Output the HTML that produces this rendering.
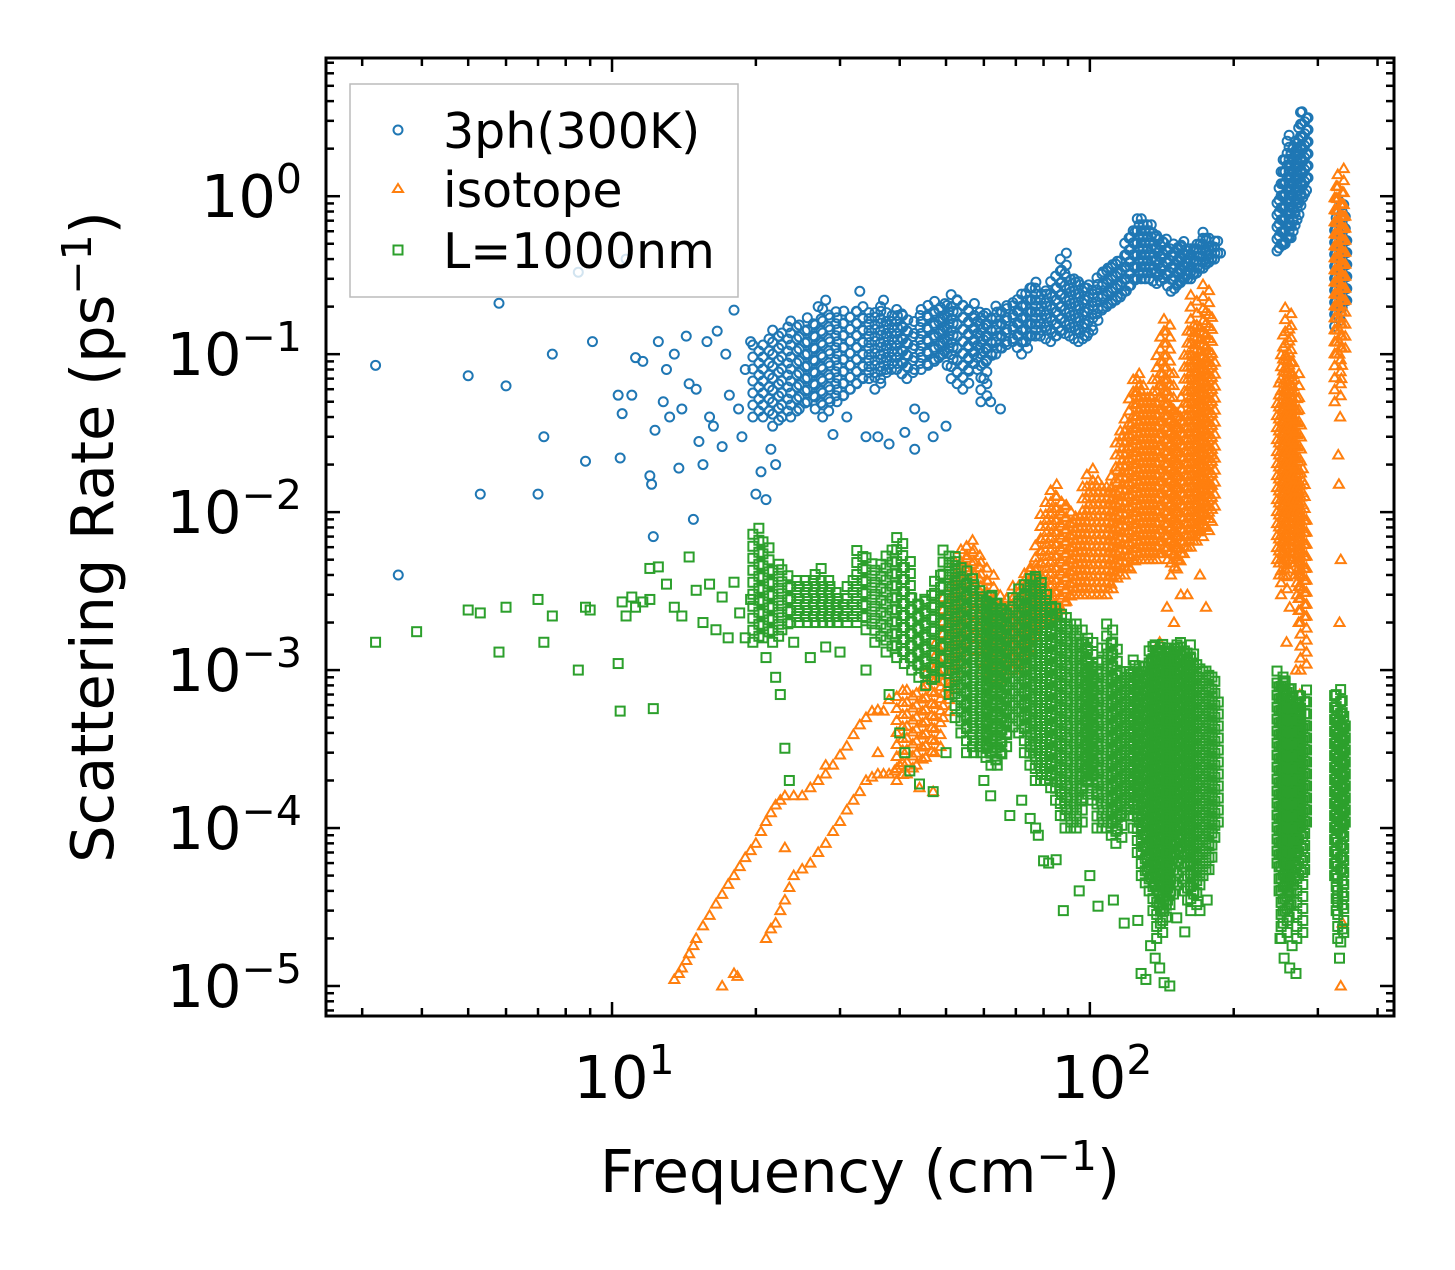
<!DOCTYPE html>
<html><head><meta charset="utf-8"><style>
body{margin:0;background:#fff}
svg text{font-family:"DejaVu Sans","Liberation Sans",sans-serif;fill:#000}
</style></head><body>
<svg id="chart" width="1455" height="1265" xmlns="http://www.w3.org/2000/svg">
<g id="marks"></g>
<g id="axes"></g>
<g>
<rect x="350" y="84" width="388" height="213" fill="#fff" fill-opacity="0.8" stroke="#bbb" stroke-width="1.5"/>
<circle cx="398" cy="130" r="4.5" fill="none" stroke="#1f77b4" stroke-width="2"/>
<text x="443" y="148" font-size="49">3ph(300K)</text>
<path d="M398,184 L403,192 L393,192 Z" fill="none" stroke="#ff7f0e" stroke-width="2"/>
<text x="443" y="207" font-size="49">isotope</text>
<rect x="393.5" y="245.5" width="9" height="9" fill="none" stroke="#2ca02c" stroke-width="2"/>
<text x="443" y="268" font-size="49">L=1000nm</text>
</g>
<text x="860" y="1192" font-size="59" text-anchor="middle">Frequency (cm<tspan dy="-22" font-size="41">−1</tspan><tspan dy="22">)</tspan></text>
<text transform="translate(113,537) rotate(-90)" font-size="59" text-anchor="middle">Scattering Rate (ps<tspan dy="-22" font-size="41">−1</tspan><tspan dy="22">)</tspan></text>
</svg>
<script>
// axis ranges
const xDomain=[2.52,433];
const yDomain=[-5.19,0.875];
const xTicks=[1,2];
const yTicks=[0,-1,-2,-3,-4,-5];
// blue singles: "freq:value"
const blueSingles="3.2:0.085 3.57:0.004 5:0.073 5.3:0.013 5.8:0.21 6:0.063 7:0.013 7.2:0.03 7.5:0.1 8.5:0.33 8.8:0.021 9.1:0.12 10.3:0.055 10.4:0.022 10.5:0.042 10.7:0.4 11:0.055 11.2:0.095 11.6:0.09 12:0.017 12.1:0.015 12.2:0.007 12.3:0.033 12.5:0.12 12.8:0.05 13:0.08 13.2:0.04 13.5:0.1 13.8:0.019 14:0.045 14.3:0.13 14.5:0.065 14.8:0.009 15:0.06 15.2:0.028 15.5:0.02 15.8:0.12 16:0.04 16.3:0.035 16.6:0.14 17:0.026 17.3:0.1 17.6:0.055 18:0.19 18.4:0.045 18.7:0.03 19:0.08 19.5:0.12 20:0.013 20.5:0.018 21:0.012 21.5:0.025 22:0.02 43:0.045 43:0.025 45:0.04 47:0.03 50:0.035 60:0.07 62:0.05 65:0.045 29:0.031 31:0.04 34:0.03 36:0.03 38:0.027 41:0.032 28:0.22 27:0.2 33:0.25 37:0.22".split(" ");
// blue ranges: "freq:low:high"
const blueRanges="20:0.04:0.12 21:0.04:0.13 22:0.035:0.15 23:0.04:0.15 24:0.04:0.17 25:0.045:0.16 26:0.05:0.18 27:0.045:0.17 28:0.04:0.2 29:0.05:0.19 30:0.05:0.18 31:0.055:0.19 32:0.06:0.2 33:0.065:0.2 34:0.07:0.2 35:0.07:0.19 36:0.06:0.2 37:0.07:0.2 38:0.08:0.18 39:0.08:0.19 40:0.08:0.2 41:0.075:0.18 42:0.07:0.15 43.5:0.08:0.18 45:0.08:0.2 46.5:0.085:0.21 48:0.09:0.22 49:0.095:0.21 50:0.1:0.2 51:0.085:0.22 52:0.07:0.25 53.5:0.065:0.23 55:0.06:0.22 56.5:0.08:0.21 58:0.1:0.2 59:0.08:0.19 60:0.05:0.18 61.5:0.09:0.19 63:0.1:0.2 64.5:0.1:0.21 66:0.11:0.22 68:0.115:0.22 70:0.12:0.22 71.5:0.11:0.23 73:0.1:0.25 74.5:0.12:0.27 76:0.13:0.3 78:0.13:0.27 80:0.13:0.25 82:0.125:0.27 84:0.12:0.3 86:0.13:0.35 88:0.14:0.45 90:0.135:0.35 92:0.13:0.3 94:0.125:0.3 96:0.12:0.3 98:0.125:0.29 100:0.13:0.28 102.5:0.15:0.3 105:0.18:0.35 107.5:0.19:0.37 110:0.2:0.4 112.5:0.21:0.39 115:0.22:0.38 117.5:0.23:0.45 120:0.25:0.55 122.5:0.27:0.62 125:0.3:0.7 127.5:0.3:0.72 130:0.3:0.75 132.5:0.3:0.7 135:0.3:0.65 137.5:0.29:0.62 140:0.28:0.6 142.5:0.29:0.57 145:0.3:0.55 147.5:0.27:0.52 150:0.25:0.5 152.5:0.26:0.52 155:0.28:0.55 157.5:0.29:0.52 160:0.3:0.5 162.5:0.3:0.5 165:0.3:0.5 167.5:0.32:0.52 170:0.35:0.55 172.5:0.35:0.57 175:0.35:0.6 177.5:0.37:0.57 180:0.4:0.55 182.5:0.4:0.52 185:0.4:0.5 250:0.45:1 252.5:0.47:1.2 255:0.5:1.5 257.5:0.5:1.7 260:0.5:2 262.5:0.55:2.3 265:0.6:2.5 267.5:0.65:2.2 270:0.7:2 272.5:0.8:2.2 275:0.9:2.5 277.5:0.95:3 280:1:3.5 282:1.2:3.7 330:0.15:0.7 332.5:0.18:0.8 335:0.2:1 337.5:0.2:0.8 340:0.2:0.6".split(" ");
// orange singles
const orangeSingles="13.5:1.1e-5 13.8:1.2e-5 14:1.3e-5 14.3:1.45e-5 14.5:1.6e-5 14.8:1.8e-5 15:2e-5 15.5:2.4e-5 16:2.8e-5 16.5:3.3e-5 17:3.8e-5 17.5:4.4e-5 18:5e-5 18.5:5.7e-5 19:6.5e-5 19.5:7.2e-5 20:8e-5 20.5:9.5e-5 21:1.1e-4 21.5:1.25e-4 22:1.4e-4 22.5:1.5e-4 23:1.6e-4 24:1.6e-4 25:1.6e-4 26:1.8e-4 27:2e-4 28:2.2e-4 29:2.5e-4 30:2.9e-4 31:3.3e-4 32:3.9e-4 33:4.5e-4 34:5e-4 35:5.5e-4 36:5.6e-4 37:5.5e-4 38:6.5e-4 17:1e-5 18:1.2e-5 18.3:1.15e-5 21:2e-5 21.5:2.3e-5 22:2.5e-5 22.5:3e-5 23:3.5e-5 23.5:4.2e-5 24:5e-5 25:5.5e-5 26:6e-5 27:7e-5 28:8e-5 29:9.5e-5 30:1.1e-4 31:1.3e-4 32:1.5e-4 33:1.7e-4 34:2e-4 35:2.1e-4 36:2.2e-4 37:2.2e-4 38:2.2e-4 39:2.3e-4 40:2.5e-4 23:7.5e-5 28:2.5e-4 140:1.5e-3 145:2.5e-3 150:2e-3 155:3e-3 160:3e-3 170:4e-3 175:2.5e-3 178:1.5e-2 180:2.3e-2 258:1.5e-3 262:2.5e-3 270:1e-3 275:7e-4 333:2e-3 335:5e-3 332:1.5e-2 331:2.3e-2 334:4e-2 336:7e-2 337:8.5e-2 338:2.5e-5 335:1e-5 36:3e-4 44:1.8e-4 47:1.7e-4".split(" ");
const orangeRanges="40:2e-4:8e-4 42:2.2e-4:8e-4 44:2.5e-4:8e-4 46:2.8e-4:1.1e-3 48:3e-4:1.5e-3 50:5e-4:3e-3 51.5:7e-4:4e-3 53:1e-3:5e-3 54.5:1.2e-3:6e-3 56:1.5e-3:7e-3 58:1.2e-3:6e-3 60:1e-3:5e-3 62:9e-4:4e-3 64:8e-4:3e-3 66:9e-4:3e-3 68:1e-3:3e-3 70:1e-3:3.5e-3 72:1e-3:4e-3 74:1.2e-3:4.5e-3 76:1.5e-3:5e-3 78:1.8e-3:7e-3 80:2e-3:1e-2 82:2e-3:1.2e-2 84:2e-3:1.5e-2 86:2.2e-3:1.3e-2 88:2.5e-3:1.2e-2 90:2.7e-3:1.1e-2 92:3e-3:1e-2 94:3e-3:1e-2 96:3e-3:1e-2 98:3e-3:1.5e-2 100:3e-3:2e-2 102.5:3e-3:1.7e-2 105:3e-3:1.5e-2 107.5:3e-3:1.5e-2 110:3e-3:1.5e-2 112.5:3.5e-3:2e-2 115:4e-3:3e-2 117.5:4e-3:3.5e-2 120:4e-3:4e-2 122.5:4.5e-3:6e-2 125:5e-3:8e-2 127.5:5e-3:7e-2 130:5e-3:6e-2 132.5:5e-3:5.5e-2 135:5e-3:5e-2 137.5:5e-3:7e-2 140:5e-3:0.1 142.5:5.5e-3:0.14 145:6e-3:0.18 147.5:5e-3:0.08 150:4e-3:0.05 152.5:4.5e-3:0.045 155:5e-3:0.04 157.5:5.5e-3:0.06 160:6e-3:0.1 162.5:6e-3:0.16 165:6e-3:0.25 167.5:7e-3:0.15 170:8e-3:0.1 172.5:7.5e-3:0.15 175:7e-3:0.3 177.5:8e-3:0.2 180:1e-2:0.1 250:5e-3:0.05 252.5:4e-3:0.07 255:3e-3:0.1 257.5:4e-3:0.15 260:5e-3:0.2 262.5:7e-3:0.1 265:1e-2:0.05 267.5:7e-3:0.06 270:5e-3:0.08 272.5:4e-3:0.04 275:3e-3:0.02 277.5:2e-3:0.015 280:1e-3:0.01 330:0.05:1 332.5:0.1:1.2 335:0.2:1.5 337.5:0.1:0.8".split(" ");
// green singles
const greenSingles="3.2:1.5e-3 3.9:1.75e-3 5:2.4e-3 5.3:2.3e-3 5.8:1.3e-3 6:2.5e-3 7:2.8e-3 7.2:1.5e-3 7.5:2.2e-3 8.5:1e-3 8.8:2.5e-3 9:2.4e-3 10.3:1.1e-3 10.4:5.5e-4 10.5:2.7e-3 10.7:2.2e-3 11:2.9e-3 11.2:2.5e-3 11.6:2.7e-3 12:2.8e-3 12.2:5.7e-4 12:4.4e-3 12.5:4.5e-3 13:3.5e-3 13.5:2.5e-3 14:2.2e-3 14.5:5.2e-3 15:3.2e-3 15.5:2e-3 16:3.5e-3 16.5:1.8e-3 17:2.9e-3 17.5:1.6e-3 18:3.6e-3 18.5:2.3e-3 19:1.6e-3 19.5:2.8e-3 21:1.2e-3 22:9e-4 22.5:7e-4 23:3.2e-4 23.5:2e-4 24:1.5e-3 26:1.2e-3 28:1.4e-3 30:1.3e-3 34:1e-3 38:7e-4 40:4e-4 41:3e-4 42:2.3e-4 44:1.9e-4 47:1.7e-4 50:3e-4 60:2e-4 62:1.6e-4 64:2.5e-4 68:1.2e-4 72:1.5e-4 75:1.15e-4 77:1e-4 78:9e-5 80:6.2e-5 82:6e-5 85:6.3e-5 88:3e-5 95:4e-5 100:5e-5 104:3.2e-5 112:3.5e-5 118:2.5e-5 126:2.6e-5 128:1.2e-5 131:1.1e-5 134:1.8e-5 137:1.5e-5 140:1.3e-5 143:1.05e-5 147:1e-5 152:2.7e-5 158:2.2e-5 170:3e-5 176:3.5e-5 250:2e-5 255:1.5e-5 262:1.3e-5 265:1.8e-5 270:1.2e-5 333:1.5e-5 335:1.9e-5 338:2.3e-5 330:3.7e-5".split(" ");
const greenRanges="20:1.5e-3:8e-3 21:1.6e-3:7e-3 22:1.5e-3:5e-3 23:1.8e-3:4.5e-3 24:2e-3:4e-3 25:2e-3:4e-3 26:2e-3:4e-3 27:2e-3:4.5e-3 28:2e-3:4e-3 29:2e-3:3.5e-3 30:2e-3:3e-3 31.5:2e-3:4e-3 33:2e-3:6e-3 34.5:1.8e-3:5.5e-3 36:1.5e-3:5e-3 38:1.3e-3:6e-3 40:1.2e-3:7e-3 41.5:1.1e-3:5e-3 43:1e-3:3e-3 44.5:9e-4:3e-3 46:8e-4:3e-3 48:9e-4:4e-3 50:1e-3:6e-3 51.5:7e-4:5.5e-3 53:5e-4:5e-3 54.5:4e-4:4.5e-3 56:3e-4:4e-3 58:3e-4:3.5e-3 60:3e-4:3e-3 61.5:2.8e-4:3e-3 63:2.5e-4:3e-3 64.5:2.7e-4:2.8e-3 66:3e-4:2.5e-3 68:4e-4:2.7e-3 70:5e-4:3e-3 72:4e-4:3.5e-3 74:3e-4:4e-3 76:2.5e-4:4e-3 78:2e-4:4e-3 80:2e-4:3.5e-3 82:2e-4:3e-3 84:1.8e-4:2.7e-3 86:1.5e-4:2.5e-3 88:1.2e-4:2.2e-3 90:1e-4:2e-3 92.5:1e-4:2e-3 95:1e-4:2e-3 97.5:1.5e-4:1.7e-3 100:2e-4:1.5e-3 102.5:1.5e-4:1.2e-3 105:1e-4:1e-3 107.5:1e-4:1.5e-3 110:1e-4:2e-3 112.5:9e-5:1.5e-3 115:8e-5:1e-3 117.5:1.2e-4:1e-3 120:1.5e-4:1e-3 122.5:1.2e-4:1.1e-3 125:1e-4:1.2e-3 127.5:7e-5:1.1e-3 130:5e-5:1e-3 132.5:4.5e-5:1.2e-3 135:4e-5:1.5e-3 137.5:3e-5:1.5e-3 140:2e-5:1.5e-3 142.5:2.5e-5:1.4e-3 145:3e-5:1.3e-3 147.5:3.5e-5:1.4e-3 150:4e-5:1.5e-3 152.5:7e-5:1.5e-3 155:1e-4:1.5e-3 157.5:6e-5:1.5e-3 160:4e-5:1.5e-3 162.5:3.5e-5:1.3e-3 165:3e-5:1.2e-3 167.5:4e-5:1.1e-3 170:5e-5:1e-3 172.5:5e-5:1e-3 175:5e-5:1e-3 177.5:6e-5:1e-3 180:8e-5:1e-3 183:1e-4:7e-4 250:6e-5:1e-3 252.5:4e-5:9e-4 255:2e-5:8e-4 257.5:2.5e-5:8.5e-4 260:3e-5:9e-4 262.5:4e-5:7e-4 265:5e-5:6e-4 267.5:7e-5:6.5e-4 270:1e-4:7e-4 272.5:5e-5:6e-4 275:2e-5:5e-4 277.5:5e-5:7e-4 280:1e-4:8e-4 330:5e-5:8e-4 332.5:3e-5:7e-4 335:2e-5:6e-4 337.5:1e-4:5e-4".split(" ");

const L={l:326,r:1394,t:58,b:1016};
function X(f){return L.l+(Math.log10(f)-Math.log10(xDomain[0]))/(Math.log10(xDomain[1])-Math.log10(xDomain[0]))*(L.r-L.l);}
function Y(v){return L.b-(Math.log10(v)-yDomain[0])/(yDomain[1]-yDomain[0])*(L.b-L.t);}
const NS="http://www.w3.org/2000/svg";
const marks=document.getElementById('marks');
const styles={blue:'#1f77b4',orange:'#ff7f0e',green:'#2ca02c'};
function marker(kind,x,y){
  let el;
  if(kind==='blue'){el=document.createElementNS(NS,'circle');el.setAttribute('cx',x);el.setAttribute('cy',y);el.setAttribute('r',4.5);}
  else if(kind==='orange'){el=document.createElementNS(NS,'path');el.setAttribute('d',`M${x},${y-5}L${x+5},${y+3.5}L${x-5},${y+3.5}Z`);}
  else{el=document.createElementNS(NS,'rect');el.setAttribute('x',x-4.5);el.setAttribute('y',y-4.5);el.setAttribute('width',9);el.setAttribute('height',9);}
  el.setAttribute('fill','none');el.setAttribute('stroke',styles[kind]);el.setAttribute('stroke-width',2);
  return el;
}
function drawSeries(kind,singles,ranges){
  const g=document.createElementNS(NS,'g');
  
  
  ranges.forEach((s,i)=>{const [f,lo,hi]=s.split(':').map(Number);
    const y0=Y(lo),y1=Y(hi);const x=X(f);
    for(let y=y0,k=0;y>=y1-0.1;y-=6,k++){
      const m=marker(kind,x+((k%2)?3:-3),y);
      
      
      g.appendChild(m);}
  });
  singles.forEach(s=>{const [f,v]=s.split(':').map(Number);
    const m=marker(kind,X(f),Y(v));
    
    
    g.appendChild(m);});
  marks.appendChild(g);
}
drawSeries('blue',blueSingles,blueRanges);
drawSeries('orange',orangeSingles,orangeRanges);
drawSeries('green',greenSingles,greenRanges);

const ax=document.getElementById('axes');
function line(x1,y1,x2,y2,w){const l=document.createElementNS(NS,'line');l.setAttribute('x1',x1);l.setAttribute('y1',y1);l.setAttribute('x2',x2);l.setAttribute('y2',y2);l.setAttribute('stroke','#000');l.setAttribute('stroke-width',w);ax.appendChild(l);}
const fr=document.createElementNS(NS,'rect');
fr.setAttribute('x',L.l);fr.setAttribute('y',L.t);fr.setAttribute('width',L.r-L.l);fr.setAttribute('height',L.b-L.t);
fr.setAttribute('fill','none');fr.setAttribute('stroke','#000');fr.setAttribute('stroke-width',3);


ax.appendChild(fr);
for(let d=0;d<=2;d++)for(let m=1;m<=9;m++){const f=m*Math.pow(10,d);if(f<xDomain[0]||f>xDomain[1])continue;const x=X(f);const len=m===1?14:8;line(x,L.b,x,L.b-len,2.5);line(x,L.t,x,L.t+len,2.5);}
for(let d=-6;d<=0;d++)for(let m=1;m<=9;m++){const v=m*Math.pow(10,d);const lv=Math.log10(v);if(lv<yDomain[0]||lv>yDomain[1])continue;const y=Y(v);const len=m===1?14:8;line(L.l,y,L.l+len,y,2.5);line(L.r,y,L.r-len,y,2.5);}
xTicks.forEach(e=>{const t=document.createElementNS(NS,'text');t.setAttribute('y',1098);t.setAttribute('font-size',59);t.setAttribute('text-anchor','middle');t.innerHTML='10<tspan dy="-24" font-size="41">'+e+'</tspan>';


ax.appendChild(t);t.setAttribute('x',X(Math.pow(10,e))+12);});
yTicks.forEach(e=>{const t=document.createElementNS(NS,'text');t.setAttribute('x',L.l-24);t.setAttribute('y',Y(Math.pow(10,e))+21);t.setAttribute('font-size',59);t.setAttribute('text-anchor','end');t.innerHTML='10<tspan dy="-24" font-size="41">'+(e<0?'−'+(-e):e)+'</tspan>';


ax.appendChild(t);});
</script>
</body></html>
